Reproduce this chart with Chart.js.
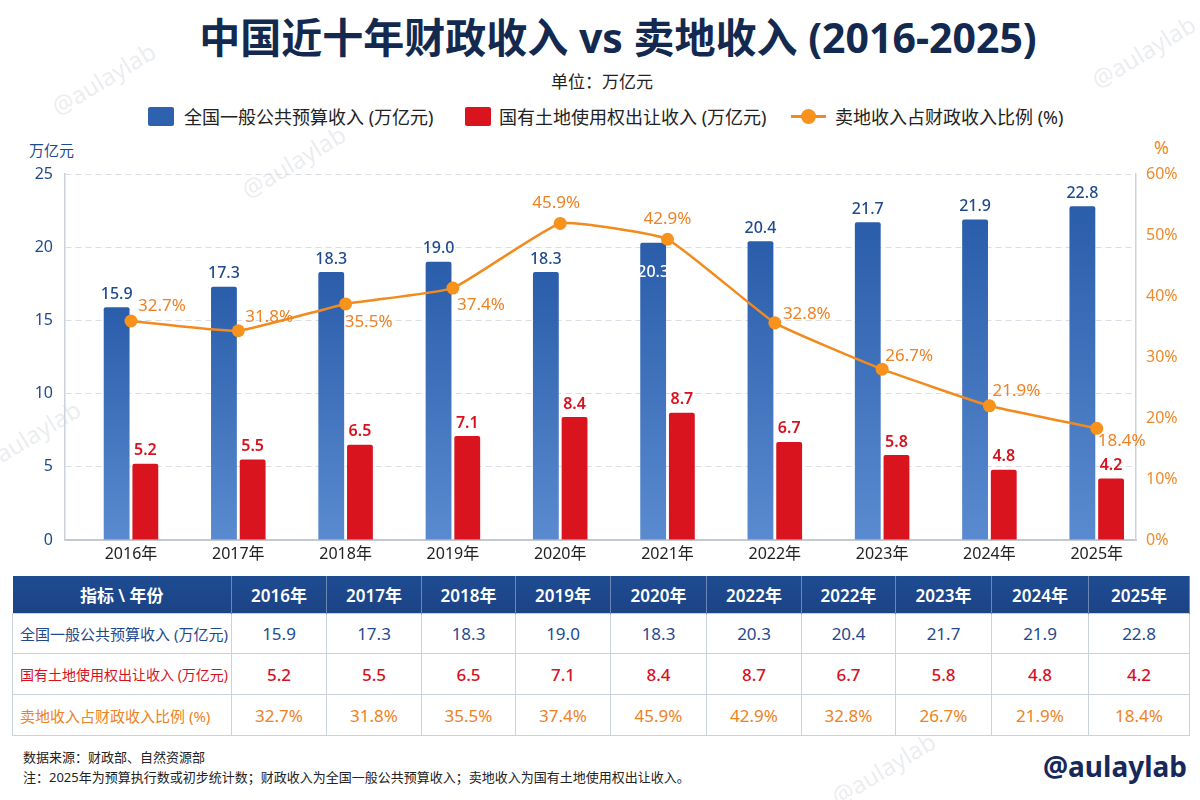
<!DOCTYPE html>
<html>
<head>
<meta charset="utf-8">
<script src="https://cdn.jsdelivr.net/npm/chart.js@4.4.1/dist/chart.umd.min.js"></script>
<style>
html,body{margin:0;padding:0;background:#fff;}
body{width:1200px;height:800px;position:relative;overflow:hidden;font-family:"Noto Sans","Noto Sans CJK SC",sans-serif;}
.abs{position:absolute;white-space:nowrap;}
#title{left:18px;width:1200px;top:14px;text-align:center;font-size:41px;font-weight:700;color:#13294F;line-height:46px;}
#subtitle{left:0;width:1204px;top:70px;text-align:center;font-size:17px;color:#222;line-height:24px;}
.lgtext{top:104px;font-size:18px;line-height:26px;color:#222;}
.lgbox{top:107px;width:26px;height:19px;border-radius:2px;}
#cv{position:absolute;left:0;top:140px;width:1200px;height:432px;}
#ytitle{left:29px;top:140px;font-size:15px;line-height:20px;color:#1F4A8E;}
#y1title{left:1154px;top:135px;font-size:18px;line-height:24px;color:#EE8A2A;}
#tbl{position:absolute;left:12px;top:576px;border-collapse:collapse;table-layout:fixed;width:1177px;}
#tbl th{background:linear-gradient(#1E4B91,#1B4486);color:#fff;font-weight:600;font-size:17px;height:37px;padding:0;text-align:center;border-right:1px solid rgba(255,255,255,0.35);}
#tbl td{border:1px solid #CBD2DD;padding:0;text-align:center;font-size:17px;white-space:nowrap;}
#tbl td.first{text-align:left;padding-left:7px;font-size:15px;overflow:hidden;}
.wm{position:absolute;white-space:nowrap;font-size:24px;color:rgba(150,162,180,0.2);transform:rotate(-31deg);transform-origin:center;}
.foot{left:23px;font-size:13px;color:#222;line-height:18px;}
#brand{right:13px;top:747px;font-size:28px;font-weight:700;color:#16295A;line-height:38px;}
</style>
</head>
<body>
<div class="wm" style="left:45px;top:62px;">@aulaylab</div>
<div class="wm" style="left:235px;top:145px;">@aulaylab</div>
<div class="wm" style="left:1085px;top:35px;">@aulaylab</div>
<div class="wm" style="left:-30px;top:420px;">@aulaylab</div>
<div class="wm" style="left:825px;top:752px;">@aulaylab</div>

<div id="title" class="abs">中国近十年财政收入 vs 卖地收入 (2016-2025)</div>
<div id="subtitle" class="abs">单位：万亿元</div>

<div class="abs lgbox" style="left:148px;background:#2F62AE;"></div>
<div class="abs lgtext" id="lg1" style="left:184px;"></div>
<div class="abs lgbox" style="left:465px;background:#D9141F;"></div>
<div class="abs lgtext" id="lg2" style="left:499px;"></div>
<div class="abs" style="left:791px;top:115px;width:35px;height:3px;background:#F28B1F;"></div>
<div class="abs" style="left:801px;top:109px;width:15px;height:15px;border-radius:50%;background:#F7921D;"></div>
<div class="abs lgtext" id="lg3" style="left:835px;"></div>

<div id="ytitle" class="abs">万亿元</div>
<div id="y1title" class="abs">%</div>

<canvas id="cv" width="1200" height="432"></canvas>

<table id="tbl"></table>

<div class="abs foot" style="top:748px;">数据来源：财政部、自然资源部</div>
<div class="abs foot" style="top:768px;">注：2025年为预算执行数或初步统计数；财政收入为全国一般公共预算收入；卖地收入为国有土地使用权出让收入。</div>
<div id="brand" class="abs">@aulaylab</div>

<script>
// ---------- data ----------
const years = ['2016年','2017年','2018年','2019年','2020年','2021年','2022年','2023年','2024年','2025年'];
const fiscalRevenue = [15.9, 17.3, 18.3, 19.0, 18.3, 20.3, 20.4, 21.7, 21.9, 22.8];
const landRevenue = [5.2, 5.5, 6.5, 7.1, 8.4, 8.7, 6.7, 5.8, 4.8, 4.2];
const ratioLabels = [32.7, 31.8, 35.5, 37.4, 45.9, 42.9, 32.8, 26.7, 21.9, 18.4];
const ratioPlotted = [35.9, 34.3, 38.7, 41.3, 51.9, 49.3, 35.6, 28.0, 22.0, 18.3];
const tableYears = ['2016年','2017年','2018年','2019年','2020年','2022年','2022年','2023年','2024年','2025年'];
const seriesNames = ['全国一般公共预算收入 (万亿元)', '国有土地使用权出让收入 (万亿元)', '卖地收入占财政收入比例 (%)'];
const tableHeaderFirst = '指标 \\ 年份';

// ---------- style helpers ----------
const FONT = '"Noto Sans","Noto Sans CJK SC",sans-serif';
const BLUE_TXT = '#1F4A8E', RED = '#D9141F', ORANGE = '#F28B1F', ORANGE_TXT = '#EE8224';
const ratioLabelOffsets = [[31,-15],[31,-14],[23,18],[28,17],[-4,-20],[0,-20],[32,-9],[27,-13],[27,-15],[25,13]];
const insideBlueLabel = [5];

document.getElementById('lg1').textContent = seriesNames[0];
document.getElementById('lg2').textContent = seriesNames[1];
document.getElementById('lg3').textContent = seriesNames[2];

// ---------- table ----------
(function buildTable(){
  const t = document.getElementById('tbl');
  const widths = [219,95,95,94,95,96,95,94,96,97,101];
  let h = '<colgroup>' + widths.map(w => '<col style="width:' + w + 'px">').join('') + '</colgroup>';
  h += '<tr><th>' + tableHeaderFirst + '</th>' + tableYears.map(y => '<th>' + y + '</th>').join('') + '</tr>';
  const rows = [
    {name: seriesNames[0], vals: fiscalRevenue.map(v => v.toFixed(1)), color: BLUE_TXT, hgt: 40, w: 400, fs: 15},
    {name: seriesNames[1], vals: landRevenue.map(v => v.toFixed(1)), color: '#D7121F', hgt: 41, w: 500, fs: 14},
    {name: seriesNames[2], vals: ratioLabels.map(v => v.toFixed(1) + '%'), color: ORANGE_TXT, hgt: 41, w: 400, fs: 15}
  ];
  rows.forEach(r => {
    h += '<tr style="height:' + r.hgt + 'px;color:' + r.color + '"><td class="first" style="font-size:' + r.fs + 'px">' + r.name + '</td>' +
      r.vals.map(v => '<td style="font-weight:' + r.w + '">' + v + '</td>').join('') + '</tr>';
  });
  t.innerHTML = h;
})();

// ---------- chart ----------
function blueFill(context){
  const chart = context.chart;
  const a = chart.chartArea;
  if (!a || !context.raw) return '#3566B2';
  const top = chart.scales.y.getPixelForValue(context.raw.y);
  const g = chart.ctx.createLinearGradient(0, top, 0, a.bottom);
  g.addColorStop(0, '#2A5DAA');
  g.addColorStop(1, '#5A8BD0');
  return g;
}

const labelPlugin = {
  id: 'valueLabels',
  afterDatasetsDraw(chart){
    const c = chart.ctx;
    c.save();
    c.textAlign = 'center';
    c.textBaseline = 'middle';
    const m0 = chart.getDatasetMeta(0), m1 = chart.getDatasetMeta(1), m2 = chart.getDatasetMeta(2);
    m0.data.forEach((bar, i) => {
      const inside = insideBlueLabel.includes(i);
      c.font = '500 16px ' + FONT;
      c.fillStyle = inside ? '#FFFFFF' : BLUE_TXT;
      c.fillText(fiscalRevenue[i].toFixed(1), bar.x, inside ? bar.y + 30 : bar.y - 13);
    });
    m1.data.forEach((bar, i) => {
      c.font = '600 16px ' + FONT;
      c.fillStyle = '#D7121F';
      c.fillText(landRevenue[i].toFixed(1), bar.x, bar.y - 13);
    });
    m2.data.forEach((pt, i) => {
      c.font = '400 17px ' + FONT;
      c.fillStyle = ORANGE_TXT;
      const o = ratioLabelOffsets[i];
      c.fillText(ratioLabels[i].toFixed(1) + '%', pt.x + o[0], pt.y + o[1]);
    });
    c.restore();
  }
};

new Chart(document.getElementById('cv'), {
  type: 'bar',
  data: {
    datasets: [
      {
        type: 'bar', label: seriesNames[0],
        data: fiscalRevenue.map((v, i) => ({x: i, y: v})),
        backgroundColor: blueFill, yAxisID: 'y', order: 2,
        categoryPercentage: 0.535, barPercentage: 0.9,
        borderRadius: {topLeft: 2, topRight: 2, bottomLeft: 0, bottomRight: 0}, borderSkipped: 'bottom'
      },
      {
        type: 'bar', label: seriesNames[1],
        data: landRevenue.map((v, i) => ({x: i, y: v})),
        backgroundColor: RED, yAxisID: 'y', order: 2,
        categoryPercentage: 0.535, barPercentage: 0.9,
        borderRadius: {topLeft: 2, topRight: 2, bottomLeft: 0, bottomRight: 0}, borderSkipped: 'bottom'
      },
      {
        type: 'line', label: seriesNames[2],
        data: ratioPlotted.map((v, i) => ({x: i, y: v})),
        yAxisID: 'y1', order: 0,
        borderColor: ORANGE, borderWidth: 2.5, tension: 0.12,
        pointRadius: 6.5, pointBackgroundColor: '#F7921D', pointBorderWidth: 0, pointHoverRadius: 6.5
      }
    ]
  },
  options: {
    responsive: false,
    animation: false,
    layout: {padding: {top: 34, left: 0, right: 0, bottom: 0}},
    plugins: {legend: {display: false}, tooltip: {enabled: false}},
    scales: {
      x: {
        type: 'linear', min: -0.615, max: 9.366, bounds: 'data', offset: false,
        grid: {display: false, drawTicks: false, offset: false},
        border: {display: true, color: '#C4C9D1', width: 2},
        afterBuildTicks: s => { s.ticks = years.map((_, i) => ({value: i})); },
        ticks: {autoSkip: false, maxRotation: 0, minRotation: 0, padding: 5, color: '#222',
                font: {size: 16, family: FONT}, callback: (v, i) => years[i]},
        afterFit: s => { s.height = 32; }
      },
      y: {
        type: 'linear', position: 'left', min: 0, max: 25,
        ticks: {stepSize: 5, color: BLUE_TXT, padding: 12, font: {size: 16, family: FONT}},
        grid: {color: '#D9DEE5', lineWidth: 1, drawTicks: false},
        border: {display: true, color: '#CDD2DA', width: 1.5, dash: [6, 4]},
        afterFit: s => { s.width = 65; }
      },
      y1: {
        type: 'linear', position: 'right', min: 0, max: 60,
        ticks: {stepSize: 10, color: '#EE8A2A', padding: 10, font: {size: 16, family: FONT}, callback: v => v + '%'},
        grid: {display: false, drawTicks: false},
        border: {display: true, color: '#CDD2DA', width: 1.5},
        afterFit: s => { s.width = 64; }
      }
    }
  },
  plugins: [labelPlugin]
});
</script>
</body>
</html>
